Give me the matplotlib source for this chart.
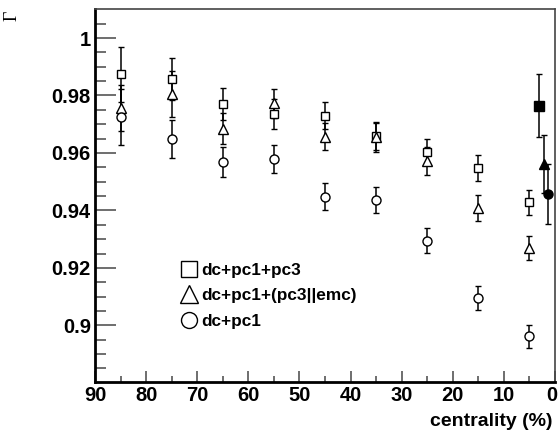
import matplotlib
matplotlib.use("Agg")
import matplotlib.pyplot as plt
import matplotlib.transforms as mtransforms
from matplotlib.lines import Line2D
import numpy as np

plt.rcParams['font.family'] = ['Liberation Sans', 'DejaVu Sans']

cent = [85, 75, 65, 55, 45, 35, 25, 15, 5]
sq_val = [0.9874, 0.9856, 0.9770, 0.9735, 0.9730, 0.9659, 0.9605, 0.9549, 0.9428]
sq_err = [0.0095, 0.0073, 0.0057, 0.0053, 0.0047, 0.0050, 0.0045, 0.0045, 0.0044]
tr_val = [0.9755, 0.9805, 0.9685, 0.9773, 0.9657, 0.9655, 0.9572, 0.9408, 0.9268]
tr_err = [0.0080, 0.0080, 0.0055, 0.0050, 0.0047, 0.0050, 0.0050, 0.0045, 0.0042]
ci_val = [0.9726, 0.9649, 0.9568, 0.9579, 0.9448, 0.9437, 0.9295, 0.9095, 0.8963]
ci_err = [0.0097, 0.0067, 0.0052, 0.0048, 0.0048, 0.0045, 0.0043, 0.0042, 0.0040]

# filled points (near-central reference values)
f_cent = [3.2, 2.25, 1.3]
f_val = [0.9765, 0.9562, 0.9457]
f_err = [0.0110, 0.0100, 0.0104]
f_marker = ['s', '^', 'o']

labels = ['dc+pc1+pc3', 'dc+pc1+(pc3||emc)', 'dc+pc1']

fig = plt.figure(figsize=(5.59, 4.42), dpi=100)
ax = fig.add_axes([95/559, 1-382/442, (555-95)/559, (382-9)/442])

ekw = dict(ecolor='black', elinewidth=1.1, capsize=2, capthick=1.0, linestyle='none')
ax.errorbar(cent, sq_val, yerr=sq_err, marker='s', ms=6, mfc='white', mec='black', mew=1.0, zorder=3, **ekw)
ax.errorbar(cent, tr_val, yerr=tr_err, marker='^', ms=7, mfc='white', mec='black', mew=1.0, zorder=3, **ekw)
ax.errorbar(cent, ci_val, yerr=ci_err, marker='o', ms=6.5, mfc='white', mec='black', mew=1.0, zorder=3, **ekw)
for c, v, e, m in zip(f_cent, f_val, f_err, f_marker):
    ax.errorbar([c], [v], yerr=[e], marker=m, ms=6.5, mfc='black', mec='black', zorder=3, **ekw)

ax.set_xlim(90, 0)
ax.set_ylim(0.8803, 1.0101)

ax.set_xticks(np.arange(0, 91, 10))
ax.set_xticks(np.arange(5, 90, 10), minor=True)
ax.set_yticks([0.9, 0.92, 0.94, 0.96, 0.98, 1.0])
ax.set_yticklabels(['0.9', '0.92', '0.94', '0.96', '0.98', '1'])
ax.set_yticks(np.arange(0.885, 1.01, 0.005), minor=True)

ax.tick_params(axis='both', which='both', direction='in', color='#555555', width=1.2)
ax.tick_params(axis='y', which='major', length=15, labelsize=14.5, pad=3)
ax.tick_params(axis='y', which='minor', length=8)
ax.tick_params(axis='x', which='major', length=8, labelsize=14.5, pad=3)
ax.tick_params(axis='x', which='minor', length=4)
ax.tick_params(top=False, right=False, which='both')
for lab in ax.get_xticklabels() + ax.get_yticklabels():
    lab.set_fontweight('bold')

# nudge the "0" x tick label slightly left so it stays inside the canvas
xlabs = ax.get_xticklabels()
shift = mtransforms.ScaledTranslation(-3/100, 0, fig.dpi_scale_trans)
for lab in xlabs:
    if lab.get_text() == '0':
        lab.set_transform(lab.get_transform() + shift)

for s in ['left', 'bottom']:
    ax.spines[s].set_linewidth(2.0)
for s in ['top', 'right']:
    ax.spines[s].set_linewidth(1.2)
    ax.spines[s].set_color('#444444')

fig.text(553/559, 1-421/442, 'centrality (%)', ha='right', va='center', fontsize=14, fontweight='bold')
fig.text(12/559, 1-16/442, 'Γ', ha='center', va='center', fontsize=13, rotation=90,
         family=['Liberation Serif', 'DejaVu Serif'])

handles = [Line2D([], [], marker=m, ls='none', ms=ms_, mfc='white', mec='black', mew=1.0)
           for m, ms_ in zip(['s', '^', 'o'], [11, 12.5, 11.5])]
ax.legend(handles, labels, loc='upper left', bbox_to_anchor=((182-95)/460, 1-(263-9)/373),
          frameon=False, handlelength=0.8, handletextpad=0.3, labelspacing=0.6,
          borderaxespad=0, borderpad=0, prop={'weight': 'bold', 'size': 12.4})

fig.savefig('out.png', dpi=100)
